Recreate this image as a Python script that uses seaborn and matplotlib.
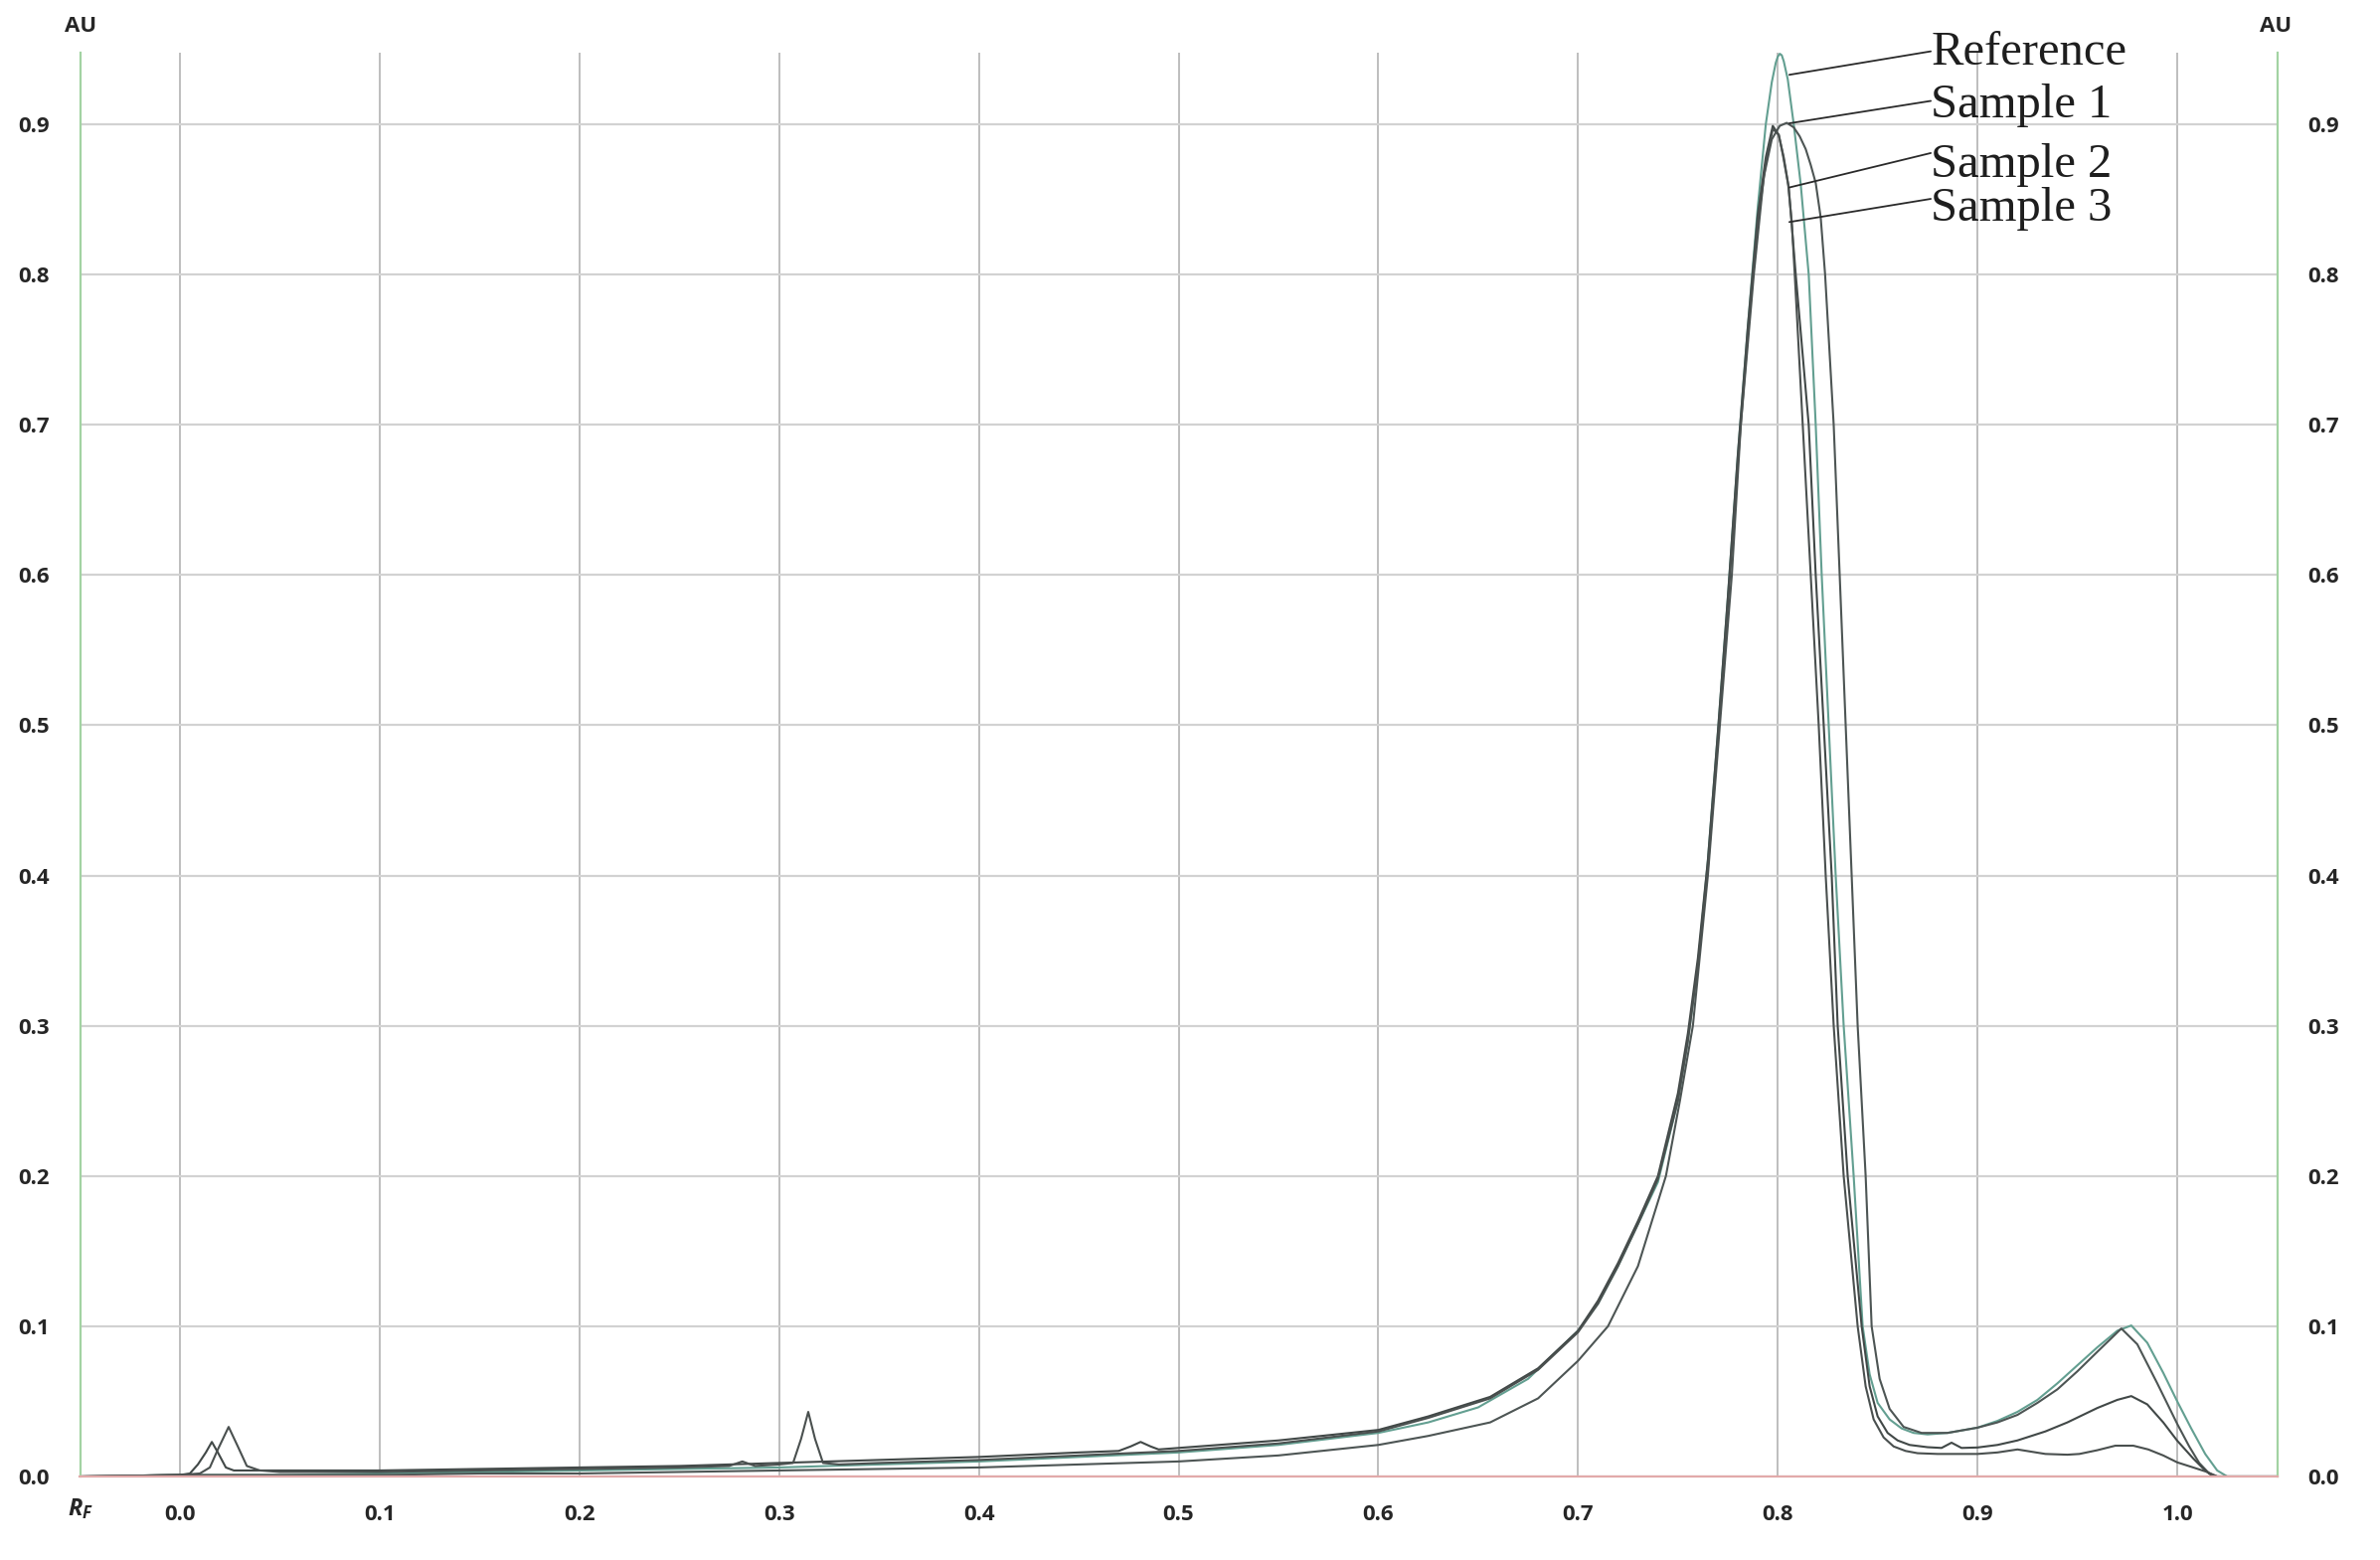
import matplotlib
matplotlib.use("Agg")
import matplotlib.pyplot as plt
import pandas as pd
import seaborn as sns

# ---------------- data ----------------
series_names = ["Reference", "Sample 1", "Sample 2", "Sample 3"]

reference_pts = [
    (-0.05, 0.000), (0.0, 0.001), (0.05, 0.001), (0.10, 0.002), (0.15, 0.003), (0.20, 0.004),
    (0.25, 0.005), (0.30, 0.006), (0.35, 0.008), (0.40, 0.010), (0.45, 0.013), (0.50, 0.016),
    (0.55, 0.021), (0.60, 0.029), (0.625, 0.036), (0.65, 0.046), (0.675, 0.065), (0.70, 0.097),
    (0.71, 0.115), (0.72, 0.140), (0.73, 0.168), (0.74, 0.196), (0.75, 0.250), (0.755, 0.290),
    (0.76, 0.340), (0.765, 0.410), (0.77, 0.495), (0.775, 0.585), (0.78, 0.680), (0.785, 0.765),
    (0.79, 0.845), (0.794, 0.900), (0.797, 0.928), (0.799, 0.941), (0.800, 0.945), (0.801, 0.947),
    (0.802, 0.946), (0.803, 0.942), (0.805, 0.930), (0.808, 0.900), (0.8115, 0.860), (0.8155, 0.800),
    (0.819, 0.700), (0.822, 0.600), (0.8255, 0.500), (0.829, 0.400), (0.833, 0.300), (0.838, 0.200),
    (0.8425, 0.100), (0.846, 0.068), (0.850, 0.049), (0.856, 0.038), (0.862, 0.032), (0.868, 0.029),
    (0.875, 0.028), (0.885, 0.029), (0.90, 0.0325), (0.91, 0.037), (0.92, 0.043), (0.93, 0.051),
    (0.94, 0.062), (0.95, 0.074), (0.96, 0.086), (0.97, 0.097), (0.977, 0.1005), (0.985, 0.089),
    (0.993, 0.069), (1.0, 0.050), (1.007, 0.032), (1.014, 0.015), (1.02, 0.004), (1.025, 0.0),
    (1.05, 0.0),
]

sample1_pts = [
    (-0.05, 0.000), (0.0, 0.001), (0.05, 0.001), (0.10, 0.001), (0.15, 0.002), (0.20, 0.002),
    (0.25, 0.003), (0.30, 0.004), (0.35, 0.005), (0.40, 0.006), (0.45, 0.008), (0.50, 0.010),
    (0.55, 0.014), (0.60, 0.021), (0.625, 0.027), (0.656, 0.036), (0.68, 0.052), (0.70, 0.077),
    (0.715, 0.100), (0.73, 0.140), (0.744, 0.200), (0.751, 0.250), (0.7575, 0.300), (0.765, 0.400),
    (0.771, 0.500), (0.777, 0.600), (0.7815, 0.700), (0.788, 0.800), (0.793, 0.865), (0.797, 0.890),
    (0.801, 0.899), (0.8045, 0.901), (0.808, 0.898), (0.811, 0.892), (0.814, 0.8835), (0.8165, 0.873),
    (0.819, 0.861), (0.8215, 0.838), (0.8237, 0.800), (0.828, 0.700), (0.831, 0.600), (0.834, 0.500),
    (0.837, 0.400), (0.840, 0.300), (0.844, 0.200), (0.847, 0.100), (0.851, 0.065), (0.856, 0.045),
    (0.863, 0.033), (0.872, 0.029), (0.885, 0.029), (0.90, 0.0325), (0.91, 0.036), (0.92, 0.041),
    (0.93, 0.049), (0.94, 0.058), (0.95, 0.070), (0.96, 0.083), (0.967, 0.092), (0.972, 0.0985),
    (0.98, 0.088), (0.99, 0.062), (1.0, 0.035), (1.006, 0.020), (1.011, 0.009), (1.016, 0.002),
    (1.02, 0.0), (1.05, 0.0),
]

sample2_pts = [
    (-0.05, 0.000), (0.0, 0.001), (0.005, 0.002), (0.009, 0.008), (0.013, 0.016), (0.016, 0.023),
    (0.019, 0.016), (0.023, 0.006), (0.027, 0.004), (0.05, 0.004), (0.10, 0.004), (0.15, 0.005),
    (0.20, 0.006), (0.25, 0.007), (0.30, 0.009), (0.35, 0.011), (0.40, 0.013), (0.45, 0.016),
    (0.47, 0.017), (0.476, 0.020), (0.481, 0.023), (0.486, 0.020), (0.49, 0.018), (0.50, 0.019),
    (0.55, 0.024), (0.60, 0.031), (0.625, 0.040), (0.656, 0.053), (0.68, 0.072), (0.70, 0.097),
    (0.71, 0.117), (0.72, 0.142), (0.73, 0.170), (0.74, 0.200), (0.75, 0.255), (0.755, 0.295),
    (0.76, 0.345), (0.765, 0.410), (0.77, 0.495), (0.775, 0.585), (0.78, 0.680), (0.785, 0.765),
    (0.79, 0.840), (0.794, 0.878), (0.7975, 0.899), (0.8005, 0.893), (0.803, 0.878), (0.8055, 0.858),
    (0.809, 0.800), (0.8155, 0.700), (0.819, 0.600), (0.823, 0.500), (0.827, 0.400), (0.830, 0.300),
    (0.835, 0.200), (0.842, 0.100), (0.846, 0.060), (0.850, 0.040), (0.855, 0.029), (0.860, 0.024),
    (0.866, 0.021), (0.875, 0.0195), (0.882, 0.019), (0.887, 0.0225), (0.892, 0.019), (0.90, 0.0193),
    (0.91, 0.021), (0.92, 0.024), (0.934, 0.030), (0.945, 0.036), (0.96, 0.0456), (0.97, 0.051),
    (0.977, 0.0535), (0.985, 0.048), (0.993, 0.036), (1.0, 0.0238), (1.008, 0.012), (1.014, 0.004),
    (1.018, 0.0), (1.05, 0.0),
]

sample3_pts = [
    (-0.05, 0.000), (0.0, 0.001), (0.01, 0.002), (0.015, 0.006), (0.019, 0.018), (0.0244, 0.033),
    (0.029, 0.020), (0.0335, 0.007), (0.04, 0.004), (0.05, 0.003), (0.10, 0.003), (0.15, 0.004),
    (0.20, 0.005), (0.25, 0.006), (0.275, 0.007), (0.2816, 0.010), (0.288, 0.007), (0.30, 0.008),
    (0.307, 0.009), (0.311, 0.025), (0.3146, 0.043), (0.318, 0.025), (0.322, 0.009), (0.33, 0.008),
    (0.35, 0.009), (0.40, 0.011), (0.45, 0.014), (0.50, 0.017), (0.55, 0.022), (0.60, 0.030),
    (0.625, 0.039), (0.656, 0.052), (0.68, 0.071), (0.70, 0.096), (0.71, 0.115), (0.72, 0.140),
    (0.73, 0.168), (0.74, 0.198), (0.75, 0.250), (0.755, 0.290), (0.76, 0.340), (0.765, 0.405),
    (0.77, 0.490), (0.775, 0.580), (0.78, 0.675), (0.785, 0.760), (0.79, 0.835), (0.794, 0.874),
    (0.7975, 0.897), (0.8005, 0.893), (0.8025, 0.880), (0.8052, 0.860), (0.807, 0.835), (0.8085, 0.800),
    (0.8105, 0.750), (0.8125, 0.700), (0.8165, 0.600), (0.8205, 0.500), (0.824, 0.400), (0.828, 0.300),
    (0.833, 0.200), (0.840, 0.100), (0.844, 0.060), (0.848, 0.038), (0.853, 0.026), (0.858, 0.020),
    (0.864, 0.017), (0.87, 0.0155), (0.88, 0.015), (0.89, 0.015), (0.90, 0.015), (0.91, 0.016),
    (0.92, 0.018), (0.934, 0.015), (0.945, 0.0145), (0.951, 0.015), (0.96, 0.0175), (0.969, 0.0205),
    (0.978, 0.0205), (0.9855, 0.018), (0.993, 0.014), (1.0, 0.0094), (1.008, 0.006), (1.015, 0.003),
    (1.02, 0.0), (1.05, 0.0),
]

x_ticks = [0.0, 0.1, 0.2, 0.3, 0.4, 0.5, 0.6, 0.7, 0.8, 0.9, 1.0]
x_tick_labels = ["0.0", "0.1", "0.2", "0.3", "0.4", "0.5", "0.6", "0.7", "0.8", "0.9", "1.0"]
y_ticks = [0.0, 0.1, 0.2, 0.3, 0.4, 0.5, 0.6, 0.7, 0.8, 0.9]
y_tick_labels = ["0.0", "0.1", "0.2", "0.3", "0.4", "0.5", "0.6", "0.7", "0.8", "0.9"]

# label annotation anchors (text baseline, leader start, leader end on the curve)
label_x = 0.8766
label_baseline_y = [0.9399, 0.9047, 0.8650, 0.8359]
leader_start_y = [0.9486, 0.9156, 0.8809, 0.8504]
leader_end = [(0.8058, 0.933), (0.8058, 0.9007), (0.8058, 0.858), (0.8058, 0.835)]

# ---------------- build long table ----------------
frames = []
for name, pts in zip(series_names, [reference_pts, sample1_pts, sample2_pts, sample3_pts]):
    df = pd.DataFrame(pts, columns=["Rf", "AU"])
    df["series"] = name
    frames.append(df)
data = pd.concat(frames, ignore_index=True)

palette = {"Reference": "#639f91", "Sample 1": "#4d5554",
           "Sample 2": "#414847", "Sample 3": "#4a504f"}

# ---------------- style ----------------
sns.set_theme(style="white")
plt.rcParams["font.family"] = ["Open Sans", "DejaVu Sans"]
plt.rcParams["mathtext.fontset"] = "custom"
plt.rcParams["mathtext.it"] = "Open Sans:italic:bold"
plt.rcParams["mathtext.rm"] = "Open Sans:bold"

TICK_FS = 16
W, H = 2394, 1569
fig = plt.figure(figsize=(W / 100, H / 100), dpi=100)
fig.patch.set_facecolor("white")
ax = fig.add_axes([80.5 / W, 1 - 1485 / H, (2290.5 - 80.5) / W, (1485 - 53) / H])
ax.set_facecolor("white")

sns.lineplot(data=data, x="Rf", y="AU", hue="series", palette=palette,
             hue_order=series_names, estimator=None, sort=False,
             linewidth=1.5, legend=False, ax=ax)

ax.set_xlim(-0.05, 1.05)
ax.set_ylim(0.0, 0.9477)
ax.set_xlabel("")
ax.set_ylabel("")

ax.set_xticks(x_ticks)
ax.set_xticklabels(x_tick_labels)
ax.set_yticks(y_ticks)
ax.set_yticklabels(y_tick_labels)
ax.set_axisbelow(True)
ax.xaxis.grid(True, color="#b9b9b9", linewidth=1.3)
ax.yaxis.grid(True, color="#d2d2d2", linewidth=1.6)

ax.tick_params(axis="y", left=False, right=False, labelleft=True, labelright=True,
               pad=16, labelsize=TICK_FS, labelcolor="#262626")
ax.tick_params(axis="x", bottom=False, top=False, pad=14, labelsize=TICK_FS, labelcolor="#262626")
for lbl in ax.get_xticklabels() + ax.get_yticklabels():
    lbl.set_fontweight("bold")
for t in ax.yaxis.get_major_ticks():
    t.label2.set_fontweight("bold")
    t.label2.set_fontsize(TICK_FS)

ax.spines["top"].set_visible(False)
for side in ["left", "right"]:
    ax.spines[side].set_color("#a3d3a3")
    ax.spines[side].set_linewidth(1.6)
ax.spines["bottom"].set_color("#e2aaaa")
ax.spines["bottom"].set_linewidth(1.6)

# axis unit labels
fig.text(81 / W, 1 - 26 / H, "AU", ha="center", va="center", fontsize=TICK_FS,
         fontweight="bold", color="#262626")
fig.text(2289.5 / W, 1 - 26 / H, "AU", ha="center", va="center", fontsize=TICK_FS,
         fontweight="bold", color="#262626")
fig.text(81 / W, 1 - 1518 / H, r"$R_F$", ha="center", va="center", fontsize=TICK_FS + 1,
         color="#262626")

# curve labels with leader lines
for name, by, sy, end in zip(series_names, label_baseline_y, leader_start_y, leader_end):
    ax.annotate("", xy=end, xytext=(label_x, sy), xycoords="data", textcoords="data",
                arrowprops=dict(arrowstyle="-", color="#2a2a2a", lw=1.3,
                                shrinkA=0, shrinkB=0), annotation_clip=False)
    ax.text(label_x, by, name, ha="left", va="baseline", fontsize=35,
            family="Liberation Serif", color="#1e1e1e", clip_on=False)

fig.savefig("out.png", dpi=100, facecolor="white")
